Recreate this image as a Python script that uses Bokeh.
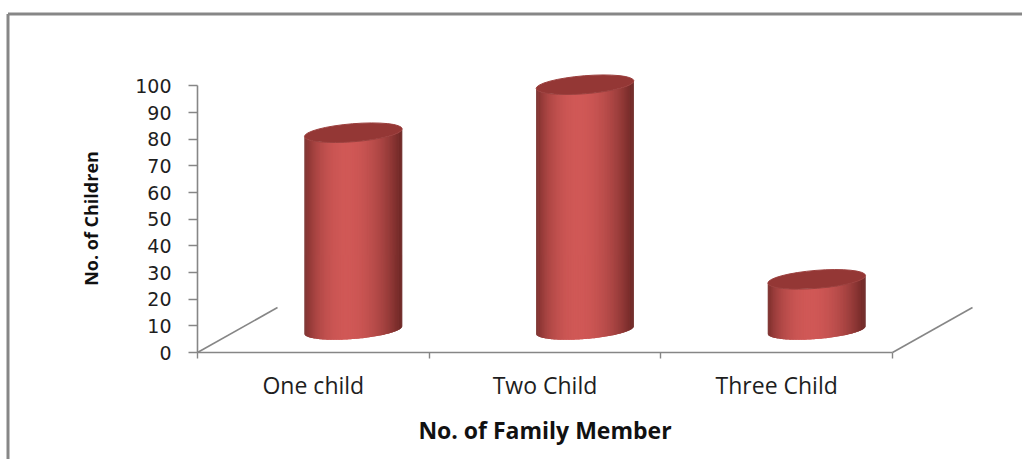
import numpy as np
from bokeh.plotting import figure
from bokeh.models import Range1d, FixedTicker, Label
from bokeh.embed import file_html
from bokeh.resources import INLINE

# ---------------- data ----------------
categories = ["One child", "Two Child", "Three Child"]
children = [74, 92, 19]
y_ticks = [0, 10, 20, 30, 40, 50, 60, 70, 80, 90, 100]
y_title = "No. of Children"
x_title = "No. of Family Member"

# ---------------- geometry / style ----------------
W, H = 1022, 459
X0_PX, Y0_PX = 197, 352        # pixel position of the origin
PX_X = 231.67                  # pixels per category
PX_V = 2.666                   # pixels per unit
DEPTH_PX = (80, 45)            # oblique depth offset (right, up)
DX = DEPTH_PX[0] / PX_X
DV = DEPTH_PX[1] / PX_V
RA, RB, TILT = 49.0, 9.0, 0.08  # cylinder ellipse semi-axes (px) and tilt
GRAY = "#868686"
TOP_COLOR = "#943735"
LIGHT = np.array([208, 88, 86])
DARK = np.array([108, 38, 36])

p = figure(width=W, height=H, output_backend="svg", toolbar_location=None,
           x_range=Range1d(-X0_PX / PX_X, (W - X0_PX) / PX_X),
           y_range=Range1d(-(H - Y0_PX) / PX_V, Y0_PX / PX_V),
           min_border=0)
p.outline_line_color = None
p.grid.visible = False
p.background_fill_color = "white"
p.border_fill_color = "white"

n = len(categories)

# ---- axes ----
ya = p.yaxis[0]
ya.fixed_location = 0
ya.bounds = (0, y_ticks[-1])
ya.ticker = FixedTicker(ticks=y_ticks)
ya.axis_line_color = GRAY
ya.axis_line_width = 1.6
ya.major_tick_line_color = GRAY
ya.major_tick_line_width = 1.4
ya.major_tick_out = 9
ya.major_tick_in = 0
ya.minor_tick_line_color = None
ya.major_label_standoff = 17
ya.major_label_text_font = "DejaVu Sans"
ya.major_label_text_font_size = "19px"
ya.major_label_text_color = "#1e1e1e"

xa = p.xaxis[0]
xa.fixed_location = 0
xa.bounds = (0, n)
xa.ticker = FixedTicker(ticks=[i + 0.5 for i in range(n)],
                        minor_ticks=list(range(n + 1)))
xa.major_label_overrides = {i + 0.5: c for i, c in enumerate(categories)}
xa.axis_line_color = GRAY
xa.axis_line_width = 1.6
xa.major_tick_line_color = None
xa.major_tick_out = 0
xa.major_tick_in = 0
xa.minor_tick_line_color = GRAY
xa.minor_tick_line_width = 1.4
xa.minor_tick_out = 6
xa.minor_tick_in = 0
xa.major_label_standoff = 10
xa.major_label_text_font = "Open Sans"
xa.major_label_text_font_size = "23px"
xa.major_label_text_color = "#1e1e1e"

# ---- floor depth edges ----
p.segment(x0=[0, n], y0=[0, 0], x1=[DX, n + DX], y1=[DV, DV],
          line_color=GRAY, line_width=1.6)

# ---- cylinders ----
t = np.linspace(np.pi, 2 * np.pi, 91)
ex = RA * np.cos(t) * np.cos(TILT) - RB * np.sin(t) * np.sin(TILT)
ey = RA * np.cos(t) * np.sin(TILT) + RB * np.sin(t) * np.cos(TILT)
dxs = ex / PX_X
dvs = ey / PX_V
tm = 0.5 * (t[:-1] + t[1:])
inten = np.clip(np.cos(tm - 1.5 * np.pi + 0.15), 0, 1) ** 1.6
cols = ["#%02x%02x%02x" % tuple(int(round(c)) for c in DARK + (LIGHT - DARK) * k)
        for k in inten]

base = DV / 2
nseg = len(t) - 1
for i, val in enumerate(children):
    cx = i + 0.5 + DX / 2
    top = base + val
    xs, ys = [], []
    for k in range(nseg):
        k2 = min(k + 2, nseg)   # overlap the next strip to avoid seams
        xs.append([cx + dxs[k], cx + dxs[k + 1], cx + dxs[k2],
                   cx + dxs[k2], cx + dxs[k + 1], cx + dxs[k]])
        ys.append([base + dvs[k], base + dvs[k + 1], base + dvs[k2],
                   top + dvs[k2], top + dvs[k + 1], top + dvs[k]])
    p.patches(xs, ys, fill_color=cols, line_color=None)
    p.ellipse(x=[cx], y=[top], width=2 * RA / PX_X, height=2 * RB / PX_V,
              angle=TILT, fill_color=TOP_COLOR, line_color="#9c403e", line_width=1)

# ---- titles ----
p.add_layout(Label(x=(90 - X0_PX) / PX_X, y=(Y0_PX - 218) / PX_V, text=y_title,
                   angle=np.pi / 2, text_align="center", text_baseline="middle",
                   text_font="Open Sans", text_font_style="bold",
                   text_font_size="18px", text_color="#111111"))
p.add_layout(Label(x=n / 2, y=(Y0_PX - 429) / PX_V, text=x_title,
                   text_align="center", text_baseline="middle",
                   text_font="Open Sans", text_font_style="bold",
                   text_font_size="23px", text_color="#111111"))

# ---- outer frame border (left & top visible) ----
bx = p.x_range.start + 7.5 / PX_X
by = p.y_range.end - 13.5 / PX_V
p.segment(x0=[bx, bx], y0=[p.y_range.start, by], x1=[bx, p.x_range.end], y1=[by, by],
          line_color="#878787", line_width=3)

open("out.html", "w").write(file_html(p, INLINE))
